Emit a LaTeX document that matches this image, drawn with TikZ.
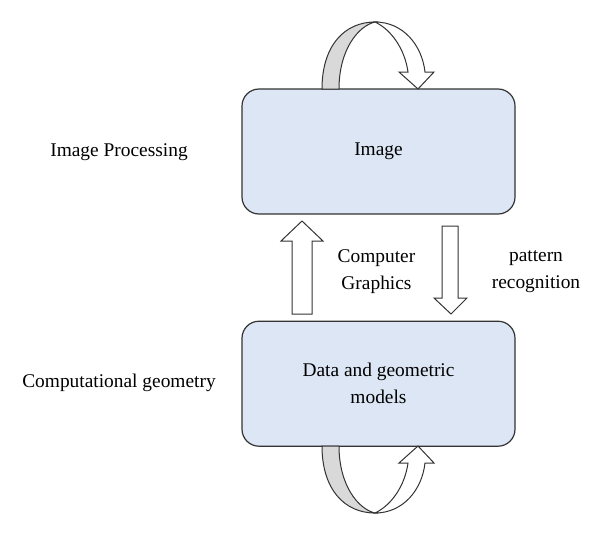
\documentclass[tikz,border=0pt]{standalone}
\usepackage{fontspec}
\setmainfont{Liberation Serif}
\usetikzlibrary{positioning,calc}
\definecolor{boxblue}{HTML}{DCE6F4}
\definecolor{bandgray}{HTML}{D9D9D9}
\definecolor{linegray}{HTML}{333333}

\begin{document}
\begin{tikzpicture}[x=0.5pt,y=-0.5pt,
    every node/.style={font=\fontsize{9.7}{13.5}\selectfont},
    stage/.style={draw=linegray, fill=boxblue, line width=0.6pt, rounded corners=8.5pt,
        minimum width=136.5pt, minimum height=62.5pt, align=center},
    sidetext/.style={align=center},
    fat/.style={draw=linegray, fill=white, line width=0.5pt, line join=miter},
    band/.style={draw=linegray, fill=bandgray, line width=0.5pt}]
    \useasboundingbox (0,0) rectangle (600,536);
    \node[stage] (img) at (378.5,151.5) {Image};
    \node[stage, below=53pt of img] (data) {Data and geometric\\models};
    \node[sidetext] (ip) at (119,152) {Image Processing};
    \node[sidetext] (cgeo) at (119,383) {Computational geometry};
    \node[sidetext] (cg) at (376.5,271.5) {Computer\\Graphics};
    \node[sidetext] (pr) at (536,272) {pattern\\recognition};
    % straight arrows
    \draw[fat] (292,314) -- (292,241) -- (281,241) -- (302,221) -- (323,241) -- (312,241) -- (312,314) -- cycle;
    \draw[fat] (442,226) -- (442,298) -- (434,298) -- (451,314) -- (467,298) -- (458,298) -- (458,226) -- cycle;
    % loop on the image
    \draw[band] (322,89) .. controls (322,45) and (345,22) .. (375,22)
        .. controls (358,26) and (339,50) .. (339,89) -- cycle;
    \draw[fat] (375,22) .. controls (403,22) and (422,45) .. (425,72) -- (434,72) -- (418,89)
        -- (399,72) -- (408,72) .. controls (405,50) and (392,30) .. (375,22) -- cycle;
    % loop on the models
    \draw[band] (322,446) .. controls (322,490) and (345,513) .. (375,513)
        .. controls (358,509) and (339,485) .. (339,446) -- cycle;
    \draw[fat] (375,513) .. controls (403,513) and (422,490) .. (425,463) -- (434,463) -- (418,446)
        -- (399,463) -- (408,463) .. controls (405,485) and (392,505) .. (375,513) -- cycle;
\end{tikzpicture}
\end{document}
